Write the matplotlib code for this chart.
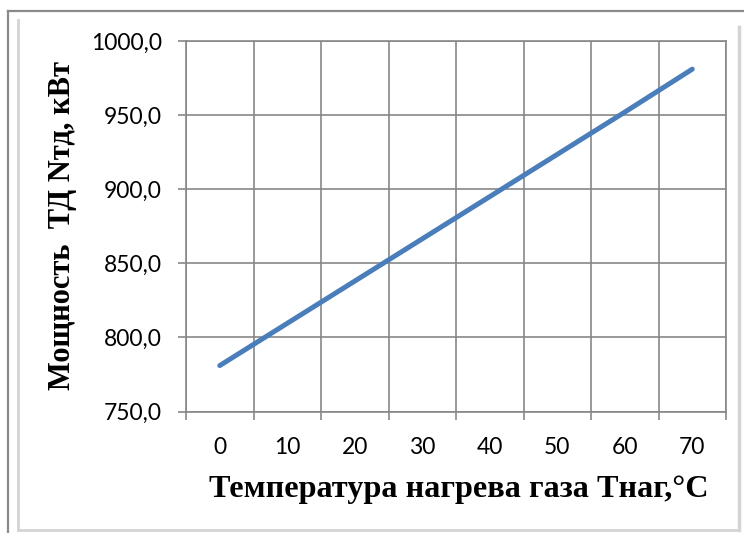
import matplotlib
matplotlib.use("Agg")
import matplotlib.pyplot as plt
from matplotlib.lines import Line2D
from matplotlib.ticker import FixedLocator, FuncFormatter, NullFormatter

categories = [0, 10, 20, 30, 40, 50, 60, 70]
power = [781.0, 809.5, 838.0, 866.5, 895.0, 923.5, 952.0, 981.0]
y_ticks = [750, 800, 850, 900, 950, 1000]
x_label = "Температура нагрева газа Тнаг,°C"
y_label = "Мощность  ТД Nтд, кВт"

W, H = 744, 533
fig = plt.figure(figsize=(W / 100, H / 100), dpi=100)

def fx(px):
    return px / W

def fy(py):
    return 1 - py / H

# outer frame and inner shadow frame
fig.add_artist(Line2D([fx(8), fx(744)], [fy(11), fy(11)], color="#8a8a8a", lw=1.6))
fig.add_artist(Line2D([fx(8), fx(8)], [fy(11), fy(533)], color="#8a8a8a", lw=1.6))
fig.add_artist(Line2D([fx(18), fx(18)], [fy(20), fy(530)], color="#d4d4d4", lw=2.0))
fig.add_artist(Line2D([fx(18), fx(739)], [fy(530), fy(530)], color="#d4d4d4", lw=2.0))
fig.add_artist(Line2D([fx(739), fx(739)], [fy(27), fy(530)], color="#d4d4d4", lw=2.5))

ax = fig.add_axes([fx(186), fy(411.5), (726 - 186) / W, (411.5 - 41) / H])

xs = list(range(len(categories)))
ax.plot(xs, power, color="#4A7EBB", lw=3.6, solid_capstyle="round", zorder=3)

ax.set_xlim(-0.5, len(categories) - 0.5)
ax.set_ylim(y_ticks[0], y_ticks[-1])

grid_c = "#878787"
ax.xaxis.set_major_locator(FixedLocator([i - 0.5 for i in range(len(categories) + 1)]))
ax.xaxis.set_major_formatter(NullFormatter())
ax.xaxis.set_minor_locator(FixedLocator(xs))
ax.xaxis.set_minor_formatter(FuncFormatter(lambda v, p: str(categories[int(round(v))])))
ax.yaxis.set_major_locator(FixedLocator(y_ticks))
ax.yaxis.set_major_formatter(FuncFormatter(lambda v, p: f"{v:.1f}".replace(".", ",")))

ax.grid(True, which="major", color=grid_c, lw=1.2)
ax.set_axisbelow(True)
for s in ax.spines.values():
    s.set_color(grid_c)
    s.set_linewidth(1.2)

ax.tick_params(axis="x", which="major", direction="out", length=5.5, color=grid_c, width=1.2)
ax.tick_params(axis="x", which="minor", length=0, pad=18, labelsize=16.5, labelfontfamily="Lato")
ax.tick_params(axis="y", which="major", direction="out", length=5.5, color=grid_c, width=1.2,
               pad=12, labelsize=16.5, labelfontfamily="Lato")

fig.text(fx(459), fy(489), x_label, ha="center", va="center",
         fontfamily="Liberation Serif", fontweight="bold", fontsize=23.2)
fig.text(fx(63), fy(226), y_label, ha="center", va="center", rotation=90,
         fontfamily="Liberation Serif", fontweight="bold", fontsize=22)

fig.savefig("out.png", dpi=100, facecolor="white")
